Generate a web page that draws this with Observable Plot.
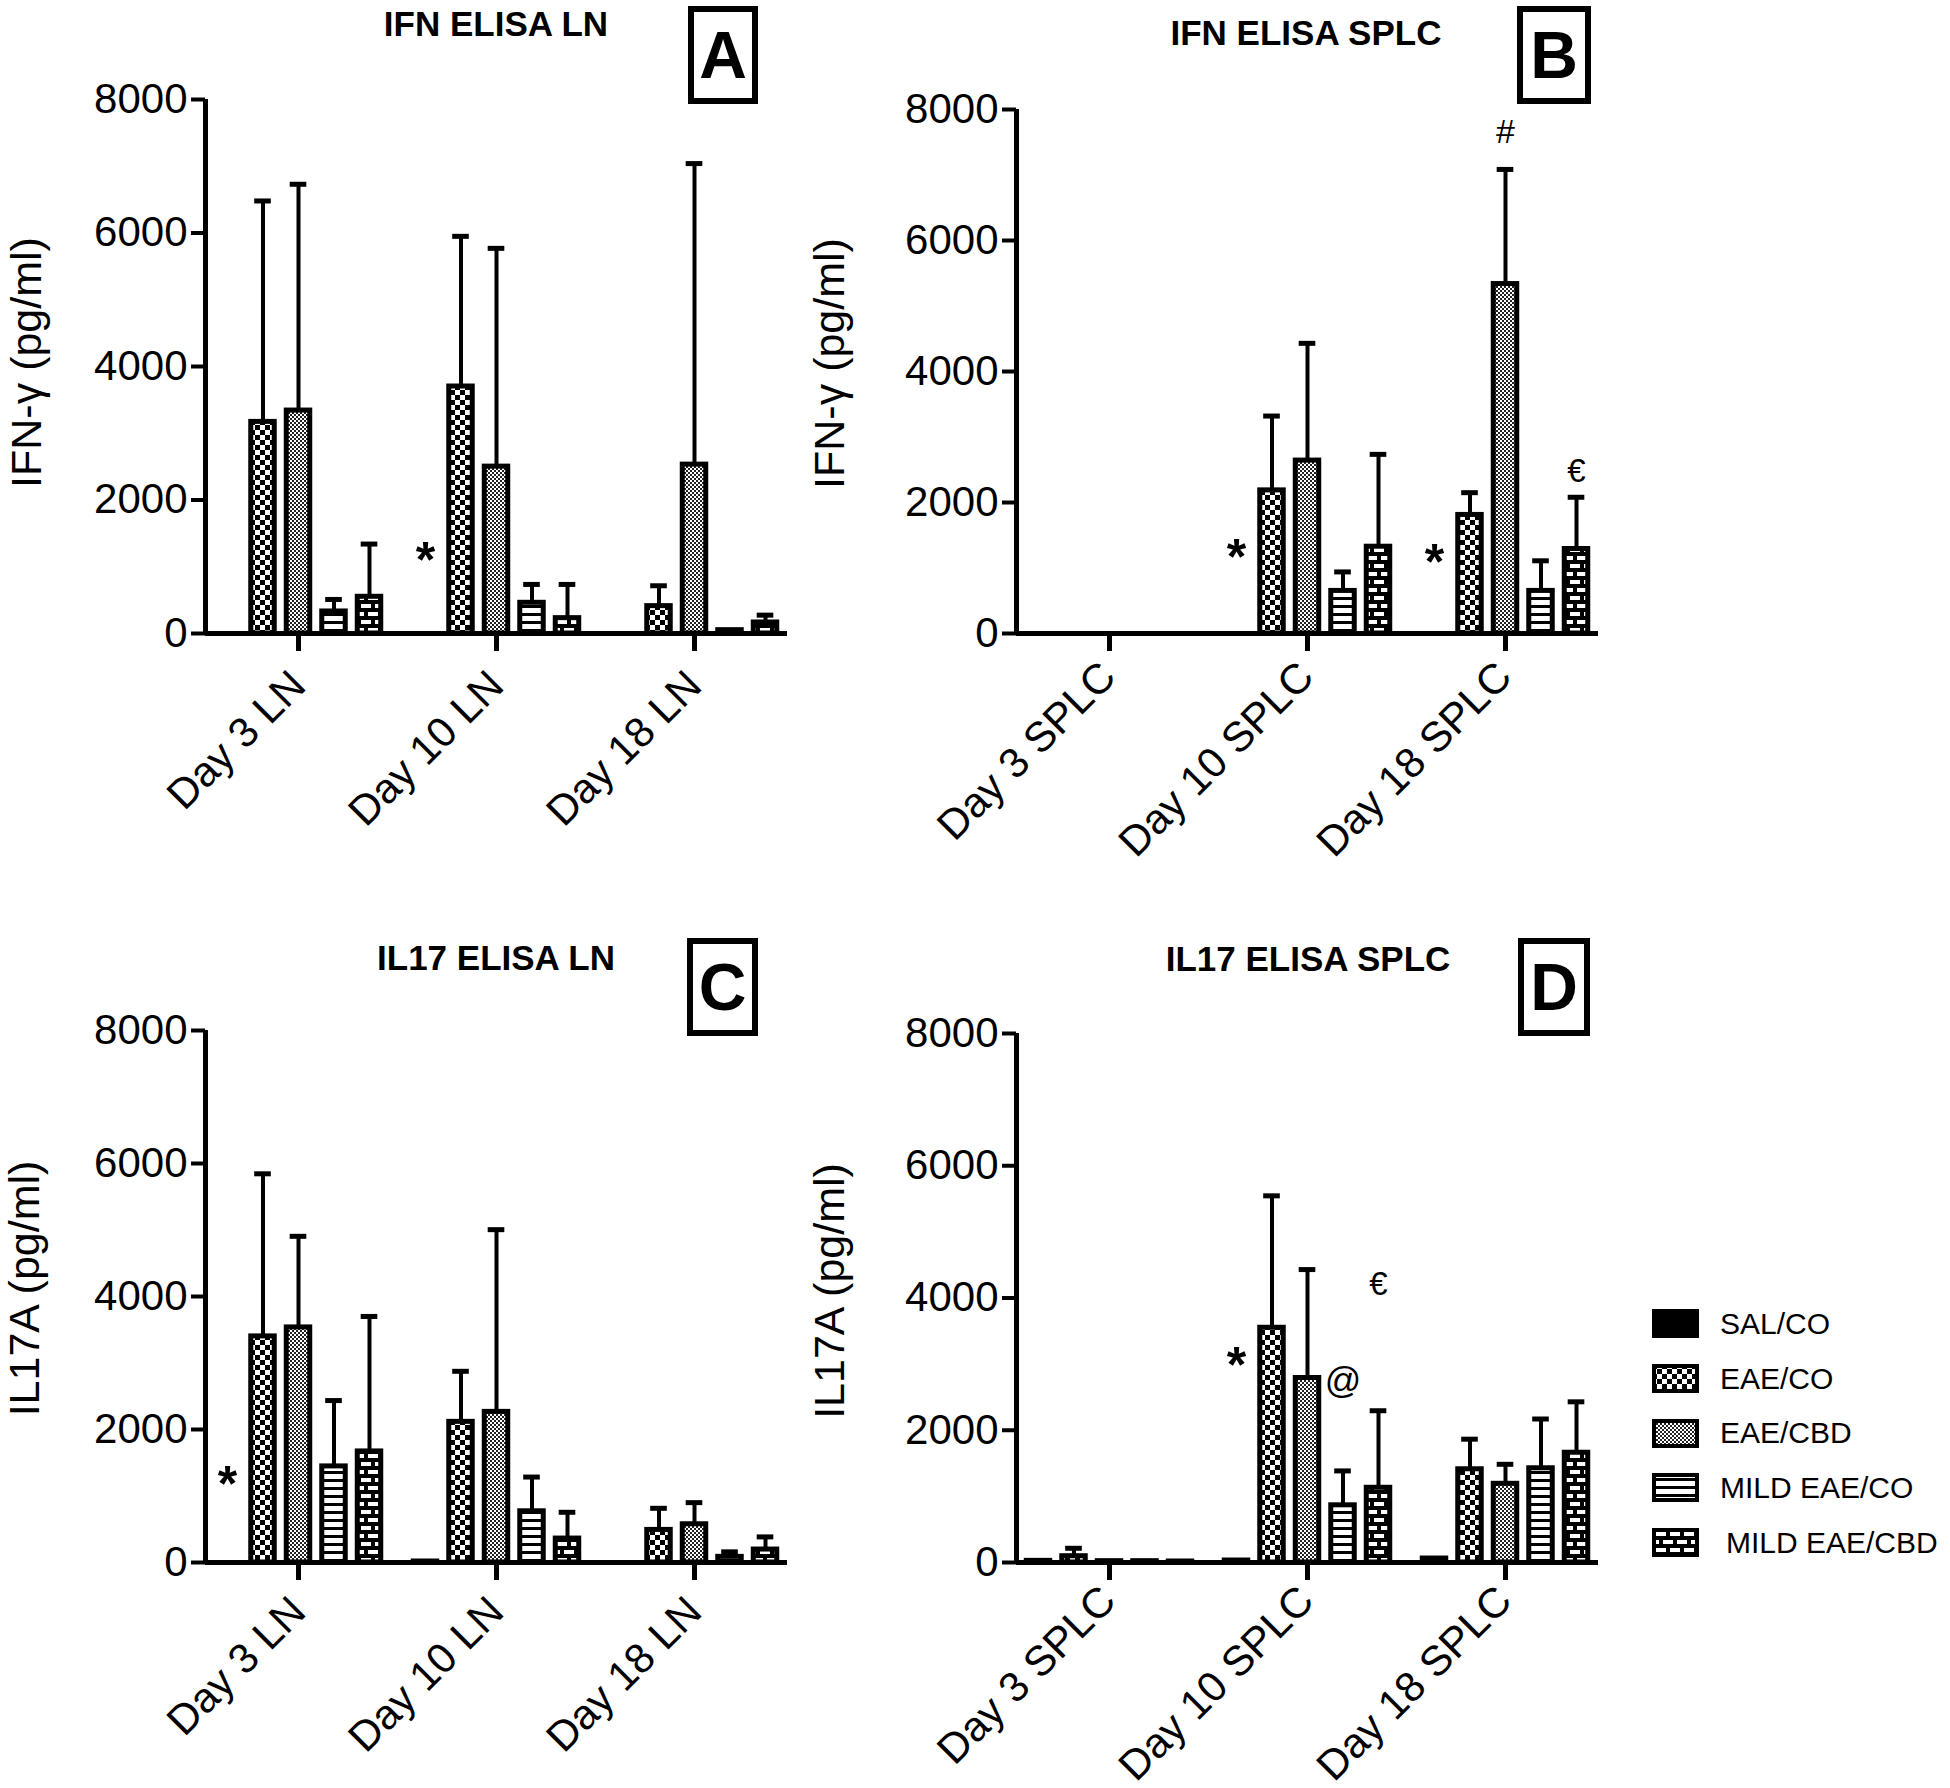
<!DOCTYPE html>
<html>
<head>
<meta charset="utf-8">
<script src="https://cdn.jsdelivr.net/npm/d3@7"></script>
<script src="https://cdn.jsdelivr.net/npm/@observablehq/plot@0.6"></script>
<style>
  html, body { margin: 0; padding: 0; background: white; }
  body { width: 1950px; height: 1788px; position: relative; overflow: hidden;
         font-family: "Liberation Sans", Arial, Helvetica, sans-serif; color: black; }
  .title { position: absolute; font-weight: bold; font-size: 35px; line-height: 35px; text-align: center; width: 500px; white-space: nowrap; }
  .box { position: absolute; box-sizing: border-box; border: 6px solid black; display: flex; align-items: center; justify-content: center;
         font-weight: bold; font-size: 66px; line-height: 66px; }
  .legtext { position: absolute; font-size: 30px; line-height: 30px; white-space: pre; }
</style>
</head>
<body>
<svg width="0" height="0" style="position:absolute;left:0;top:0">
  <defs>
    <pattern id="pCheck" width="10" height="10" patternUnits="userSpaceOnUse">
      <rect width="10" height="10" fill="white"/>
      <rect width="5" height="5" fill="black"/>
      <rect x="5" y="5" width="5" height="5" fill="black"/>
    </pattern>
    <pattern id="pFine" width="4" height="4" patternUnits="userSpaceOnUse">
      <rect width="4" height="4" fill="white"/>
      <rect width="2" height="2" fill="#222"/>
      <rect x="2" y="2" width="2" height="2" fill="#222"/>
    </pattern>
    <pattern id="pStripe" width="8" height="8" patternUnits="userSpaceOnUse">
      <rect width="8" height="8" fill="white"/>
      <rect y="5" width="8" height="3" fill="black"/>
    </pattern>
    <pattern id="pBrick" width="14" height="16" patternUnits="userSpaceOnUse">
      <rect width="14" height="16" fill="white"/>
      <rect y="0" width="14" height="4" fill="black"/>
      <rect y="8" width="14" height="4" fill="black"/>
      <rect x="0" y="4" width="4" height="4" fill="black"/>
      <rect x="7" y="12" width="4" height="4" fill="black"/>
    </pattern>
  </defs>
</svg>
<div id="root"></div>
<script>
// ---------------- DATA ----------------
const groups = ["SAL/CO", "EAE/CO", "EAE/CBD", "MILD EAE/CO", "MILD EAE/CBD"];
const daysLN = ["Day 3 LN", "Day 10 LN", "Day 18 LN"];
const daysSPLC = ["Day 3 SPLC", "Day 10 SPLC", "Day 18 SPLC"];
const yTicks = [0, 2000, 4000, 6000, 8000];

// Panel A: IFN ELISA LN (rows = days, cols = groups)
const ifnLnMean = [[0, 3170, 3340, 330, 550], [0, 3700, 2500, 460, 230], [0, 410, 2530, 50, 165]];
const ifnLnErr  = [[0, 3310, 3390, 180, 790], [0, 2250, 3270, 275, 505], [0, 305, 4510, 0, 110]];
// Panel B: IFN ELISA SPLC
const ifnSplcMean = [[0, 0, 0, 0, 0], [0, 2185, 2640, 650, 1325], [0, 1810, 5335, 650, 1290]];
const ifnSplcErr  = [[0, 0, 0, 0, 0], [0, 1135, 1790, 290, 1410], [0, 340, 1750, 460, 790]];
// Panel C: IL17 ELISA LN
const il17LnMean = [[0, 3400, 3535, 1445, 1670], [15, 2115, 2265, 770, 360], [0, 490, 575, 85, 195]];
const il17LnErr  = [[0, 2445, 1370, 990, 2030], [0, 760, 2740, 515, 395], [0, 325, 325, 75, 190]];
// Panel D: IL17 ELISA SPLC
const il17SplcMean = [[25, 95, 20, 20, 15], [30, 3550, 2790, 865, 1130], [60, 1410, 1190, 1425, 1660]];
const il17SplcErr  = [[0, 120, 0, 0, 0], [0, 1995, 1640, 520, 1165], [0, 455, 295, 745, 770]];

// Significance marks: day index, group index, value
const annA = [{t: "*", d: 1, g: 0, y: 1270}];
const annB = [{t: "*", d: 1, g: 0, y: 1330}, {t: "*", d: 2, g: 0, y: 1260}, {t: "#", d: 2, g: 2, y: 7650}, {t: "€", d: 2, g: 4, y: 2480}];
const annC = [{t: "*", d: 0, g: 0, y: 1350}];
const annD = [{t: "*", d: 1, g: 0, y: 3150}, {t: "@", d: 1, g: 3, y: 2740}, {t: "€", d: 1, g: 4, y: 4200}];

// ---------------- STYLE / LAYOUT ----------------
const FILLS = ["black", "url(#pCheck)", "url(#pFine)", "url(#pStripe)", "url(#pBrick)"];
const FONT = '"Liberation Sans", Arial, Helvetica, sans-serif';
const STEP = 0.1793;   // bar spacing within a day group (group units)
const HALF = 0.0593;   // half bar width
const CAP = 0.042;     // half error-cap width
const X0 = -0.4697, X1 = 2.4697;
const pos = (d, g) => d + (g - 2) * STEP;
const annSize = {"*": 50, "#": 34, "€": 33, "@": 36};

function table(means, errs) {
  const rows = [];
  means.forEach((row, d) => row.forEach((m, g) => rows.push({d, g, mean: m, err: errs[d][g]})));
  return rows;
}

function panel(o) {
  const rows = table(o.means, o.errs);
  const bars = rows.filter(r => r.mean > 0);
  const errRows = rows.filter(r => r.err > 0);
  const stars = o.ann.filter(a => a.t === "*");
  const others = o.ann.filter(a => a.t !== "*");
  return Plot.plot({
    width: o.width, height: o.height,
    marginLeft: o.ml, marginRight: o.mr, marginTop: o.mt, marginBottom: o.mb,
    style: {fontFamily: FONT, color: "black", background: "transparent", overflow: "visible"},
    x: {domain: [X0, X1], label: null},
    y: {domain: [0, 8000], label: null},
    marks: [
      Plot.ruleX(errRows, {x: r => pos(r.d, r.g), y1: "mean", y2: r => r.mean + r.err, stroke: "black", strokeWidth: 4}),
      Plot.ruleY(errRows, {y: r => r.mean + r.err, x1: r => pos(r.d, r.g) - CAP, x2: r => pos(r.d, r.g) + CAP, stroke: "black", strokeWidth: 5}),
      ...groups.map((g, gi) => Plot.rect(bars.filter(r => r.g === gi), {
        x1: r => pos(r.d, r.g) - HALF, x2: r => pos(r.d, r.g) + HALF,
        y1: () => 0, y2: "mean",
        fill: FILLS[gi], stroke: "black", strokeWidth: 5
      })),
      Plot.ruleY([0], {stroke: "black", strokeWidth: 5}),
      Plot.ruleX([X0], {y1: 0, y2: 8000, stroke: "black", strokeWidth: 5}),
      Plot.axisY({ticks: yTicks, tickFormat: d => String(d), tickSize: 14, tickPadding: 4, fontSize: 42, strokeWidth: 4, label: null}),
      // x tick marks (no labels)
      Plot.axisX({ticks: [0, 1, 2], tickFormat: () => "", tickSize: 18, strokeWidth: 5, label: null}),
      // x tick labels (rotated, no tick marks)
      Plot.axisX({ticks: [0, 1, 2], tickFormat: i => o.days[i], tickRotate: -45, tickSize: 0, tickPadding: o.tpad,
        dx: o.tdx, fontSize: 42, label: null}),
      Plot.text([o.ylabel], {text: d => d, frameAnchor: "left", textAnchor: "middle", lineAnchor: "middle", rotate: -90, dx: o.ldx, dy: o.ldy, fontSize: 43}),
      Plot.text(stars, {x: a => pos(a.d, a.g), y: "y", text: "t", fontSize: 50, fontWeight: "bold", dy: 12}),
      Plot.text(others, {x: a => pos(a.d, a.g), y: "y", text: "t", fontSize: a => annSize[a.t]})
    ]
  });
}

const root = document.getElementById("root");
function place(el, left, top) {
  el.style.position = "absolute";
  el.style.left = left + "px";
  el.style.top = top + "px";
  root.appendChild(el);
}

place(panel({means: ifnLnMean, errs: ifnLnErr, days: daysLN, ann: annA, ylabel: "IFN-γ (pg/ml)",
  width: 800, height: 880, ml: 205, mr: 13, mt: 99, mb: 247, ldx: -178, ldy: -4, tdx: 0, tpad: 45}), 0, 0);
place(panel({means: ifnSplcMean, errs: ifnSplcErr, days: daysSPLC, ann: annB, ylabel: "IFN-γ (pg/ml)",
  width: 800, height: 880, ml: 206, mr: 12, mt: 109, mb: 247, ldx: -186, ldy: -8, tdx: -1, tpad: 36}), 810, 0);
place(panel({means: il17LnMean, errs: il17LnErr, days: daysLN, ann: annC, ylabel: "IL17A (pg/ml)",
  width: 800, height: 898, ml: 205, mr: 13, mt: 140, mb: 226, ldx: -180, ldy: -8, tdx: 0, tpad: 42}), 0, 890);
place(panel({means: il17SplcMean, errs: il17SplcErr, days: daysSPLC, ann: annD, ylabel: "IL17A (pg/ml)",
  width: 800, height: 898, ml: 206, mr: 12, mt: 143, mb: 226, ldx: -186, ldy: -7, tdx: -1, tpad: 31}), 810, 890);

// Titles (baseline placement) and panel letters
const titles = [
  {text: "IFN ELISA LN", cx: 496, base: 36},
  {text: "IFN ELISA SPLC", cx: 1306, base: 45},
  {text: "IL17 ELISA LN", cx: 496, base: 970},
  {text: "IL17 ELISA SPLC", cx: 1308, base: 971}
];
titles.forEach(t => {
  const d = document.createElement("div");
  d.className = "title";
  d.textContent = t.text;
  d.style.left = (t.cx - 250) + "px";
  d.style.top = (t.base - 0.8465 * 35) + "px";
  root.appendChild(d);
});
const letters = [
  {t: "A", x: 688, y: 6, w: 70, h: 98},
  {t: "B", x: 1517, y: 6, w: 74, h: 98},
  {t: "C", x: 687, y: 938, w: 71, h: 98},
  {t: "D", x: 1518, y: 938, w: 72, h: 98}
];
letters.forEach(l => {
  const d = document.createElement("div");
  d.className = "box";
  d.textContent = l.t;
  Object.assign(d.style, {left: l.x + "px", top: l.y + "px", width: l.w + "px", height: l.h + "px"});
  root.appendChild(d);
});

// Legend
const legTop = 1309, legStep = 54.75;
groups.forEach((g, i) => {
  const top = legTop + i * legStep;
  const ns = "http://www.w3.org/2000/svg";
  const s = document.createElementNS(ns, "svg");
  s.setAttribute("width", 47); s.setAttribute("height", 29);
  s.style.position = "absolute"; s.style.left = "1652px"; s.style.top = top + "px";
  const r = document.createElementNS(ns, "rect");
  r.setAttribute("x", 2); r.setAttribute("y", 2); r.setAttribute("width", 43); r.setAttribute("height", 25);
  r.setAttribute("fill", FILLS[i]); r.setAttribute("stroke", "black"); r.setAttribute("stroke-width", 4);
  s.appendChild(r);
  root.appendChild(s);
  const t = document.createElement("div");
  t.className = "legtext";
  t.textContent = g;
  const center = top + 14.5;
  t.style.left = (i === 4 ? 1726 : 1720) + "px";
  t.style.top = (center + 0.358 * 30 - 0.8465 * 30) + "px";
  root.appendChild(t);
});
</script>
</body>
</html>
